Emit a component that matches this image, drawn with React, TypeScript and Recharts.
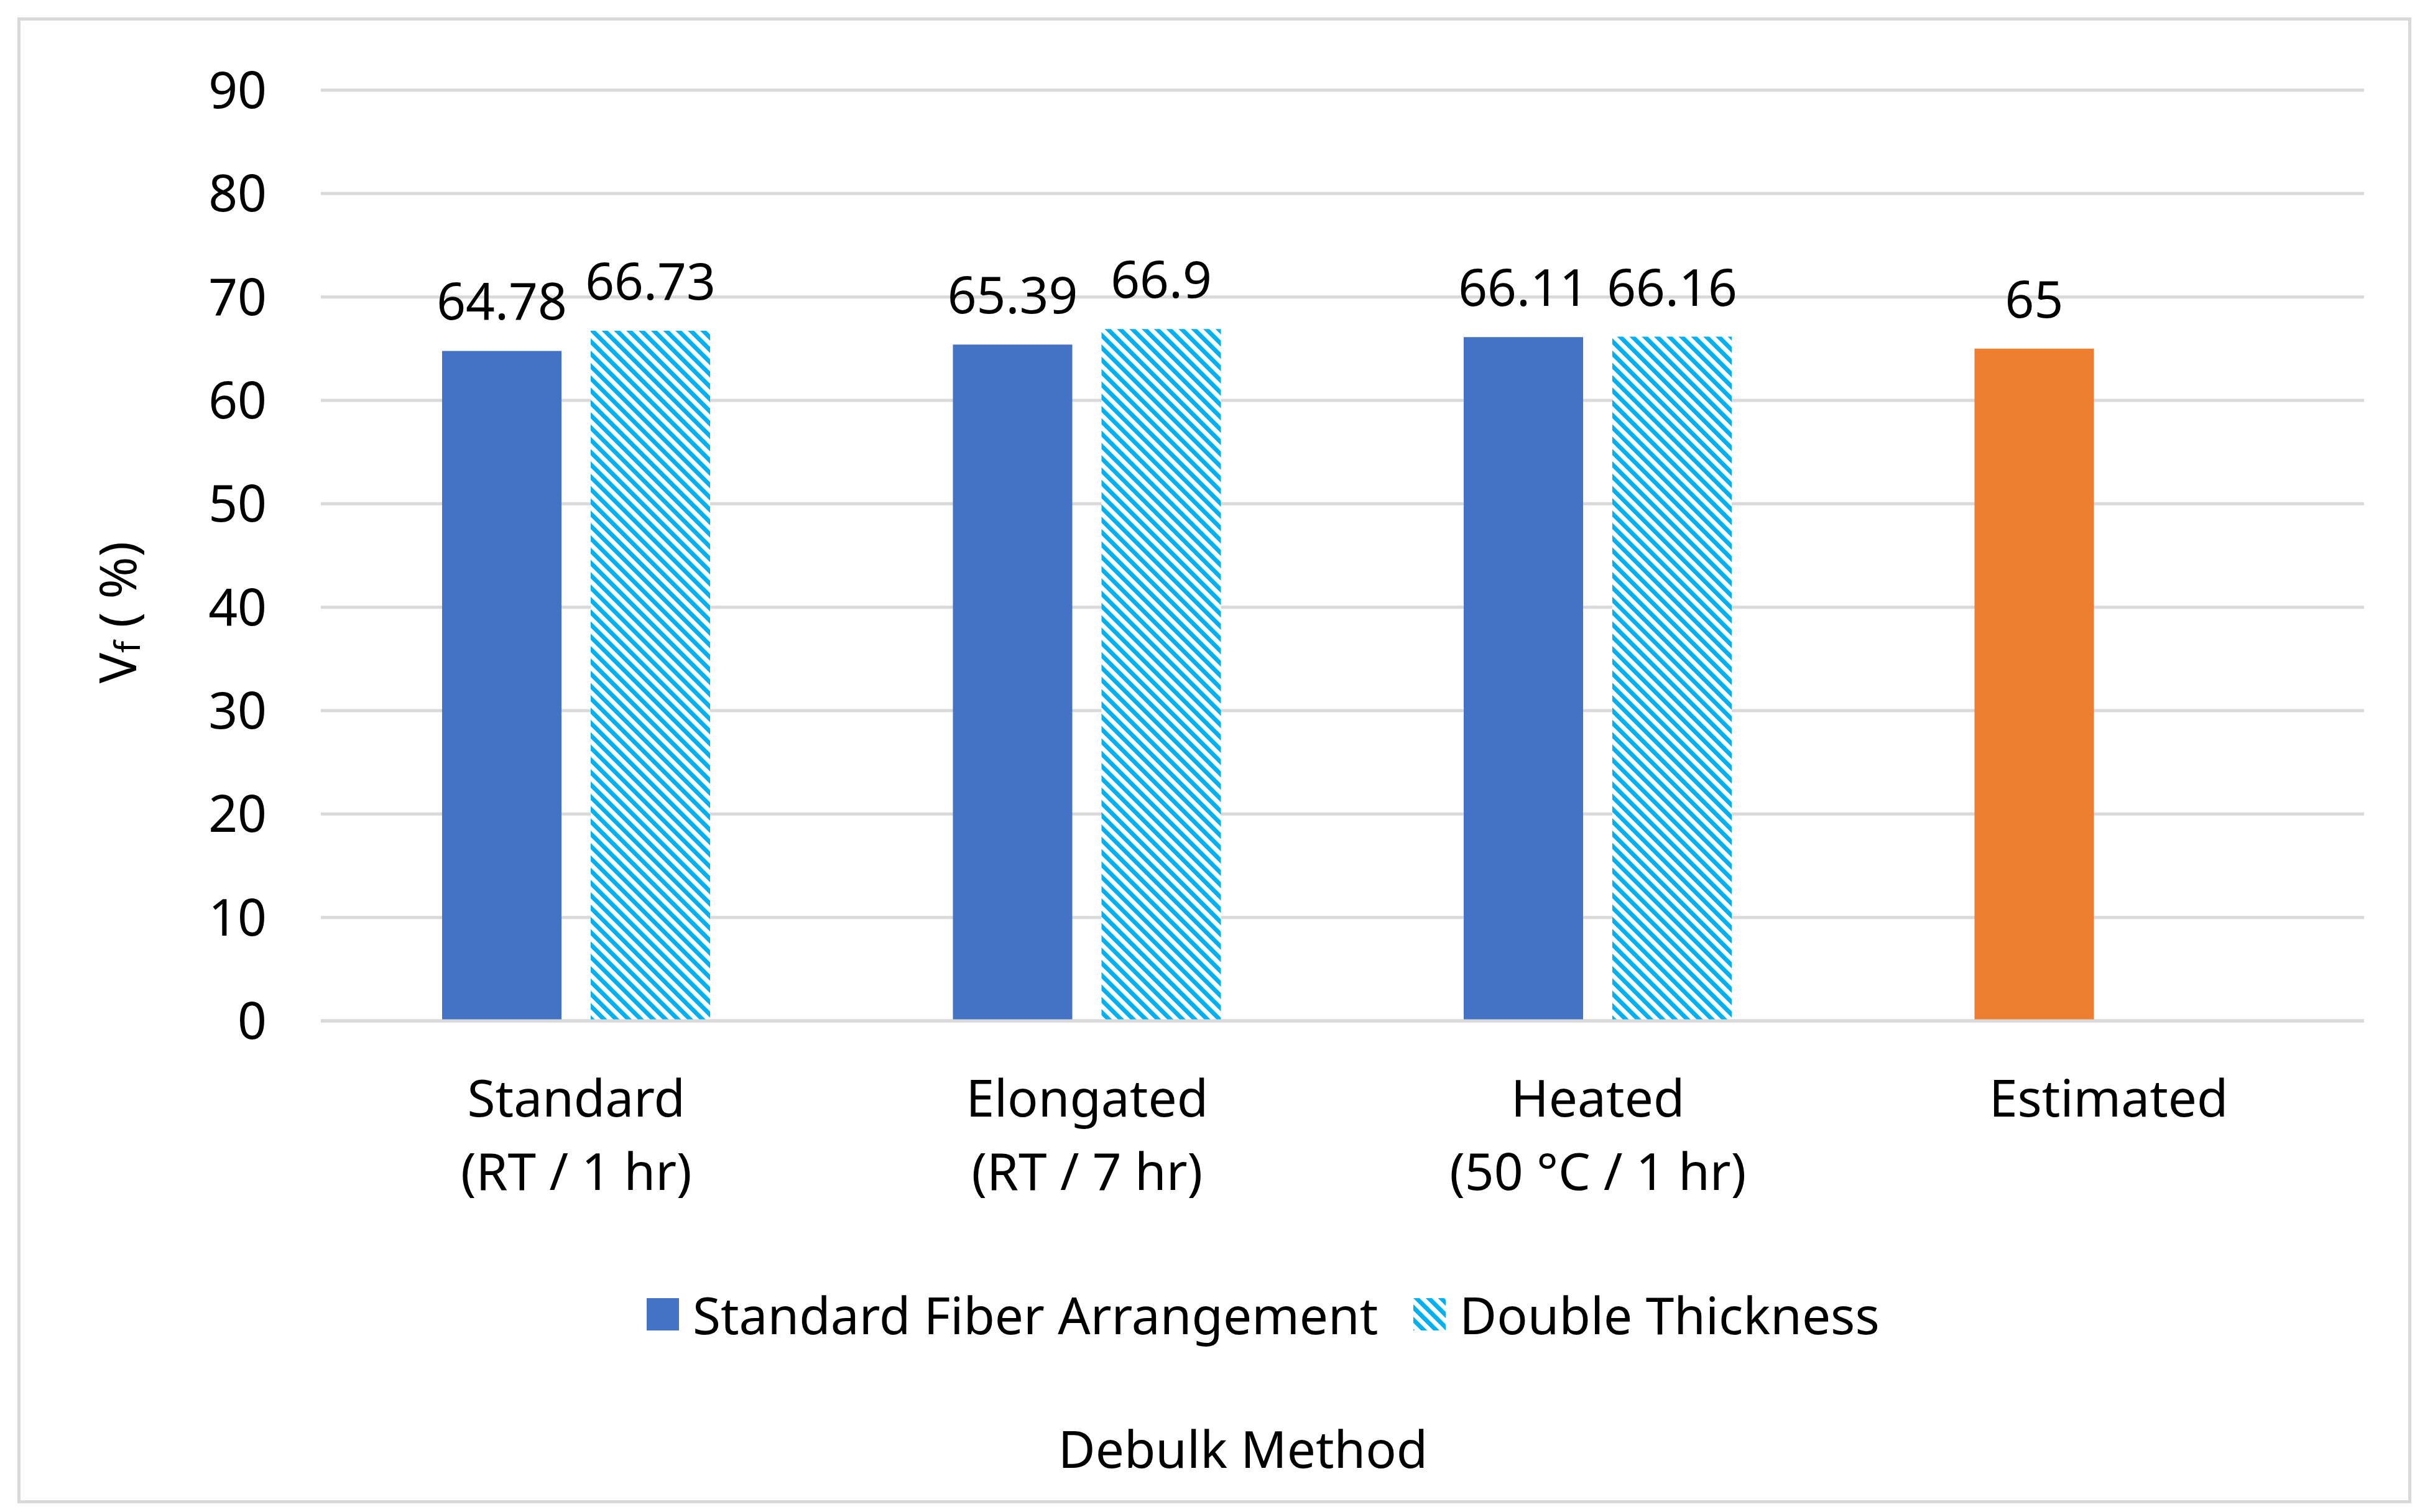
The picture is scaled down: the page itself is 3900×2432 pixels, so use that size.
import React from "react";
import { Bar, BarChart, CartesianGrid, Cell, LabelList, Legend, XAxis, YAxis } from "recharts";

const categories = ["Standard", "Elongated", "Heated", "Estimated"];
const subLabels = ["(RT / 1 hr)", "(RT / 7 hr)", "(50 °C / 1 hr)", ""];
const standardFiber = [64.78, 65.39, 66.11, 65];
const doubleThickness: (number | null)[] = [66.73, 66.9, 66.16, null];
const barColors = ["#4472c4", "#4472c4", "#4472c4", "#ed7d31"];
const yTicks = [0, 10, 20, 30, 40, 50, 60, 70, 80, 90];
const seriesNames = ["Standard Fiber Arrangement", "Double Thickness"];

const data = categories.map((name, i) => ({
  name,
  standard: standardFiber[i],
  double: doubleThickness[i],
}));

const FONT = "'Noto Sans', 'Open Sans', sans-serif";
const FS = 82;
const GRID = "#d9d9d9";
const HATCH = "#00b0f0";

function CategoryTick(props: any) {
  const { x, y, payload, index } = props;
  const sub = subLabels[index];
  return (
    <text textAnchor="middle" fontFamily={FONT} fontSize={FS} fill="#000">
      <tspan x={x} y={y + 152}>{payload.value}</tspan>
      {sub ? <tspan x={x} y={y + 270}>{sub}</tspan> : null}
    </text>
  );
}

function renderValue(props: any) {
  const { x, y, width, value } = props;
  if (value == null) return null;
  return (
    <text x={x + width / 2} y={y - 50} textAnchor="middle" fontFamily={FONT} fontSize={FS} fill="#000">
      {value}
    </text>
  );
}

function LegendContent() {
  return (
    <div
      style={{
        display: "flex",
        alignItems: "center",
        fontFamily: FONT,
        fontSize: FS,
        lineHeight: 1,
        color: "#000",
        whiteSpace: "nowrap",
      }}
    >
      <svg width={52} height={52}>
        <rect width={52} height={52} fill="#4472c4" />
      </svg>
      <span style={{ marginLeft: 22 }}>{seriesNames[0]}</span>
      <svg width={52} height={52} style={{ marginLeft: 57 }}>
        <rect width={52} height={52} fill="url(#hatch)" />
      </svg>
      <span style={{ marginLeft: 22 }}>{seriesNames[1]}</span>
    </div>
  );
}

export default function App() {
  return (
    <div style={{ position: "absolute", left: 0, top: 0, width: 3900, height: 2432, background: "#fff" }}>
      <div
        style={{
          position: "absolute",
          left: 28,
          top: 28,
          width: 3850,
          height: 2390,
          border: `5px solid ${GRID}`,
          boxSizing: "border-box",
        }}
      />
      <div style={{ position: "absolute", left: 0, top: 0 }}>
        <BarChart
          width={3900}
          height={2432}
          data={data}
          margin={{ top: 145, right: 98, left: 0, bottom: 0 }}
          barSize={192}
          barGap={47}
        >
          <defs>
            <pattern id="hatch" patternUnits="userSpaceOnUse" width={14} height={14} patternTransform="rotate(-45)">
              <rect width={14} height={14} fill="#fff" />
              <rect width={7} height={14} fill={HATCH} />
            </pattern>
          </defs>
          <CartesianGrid vertical={false} stroke={GRID} strokeWidth={5} />
          <XAxis
            dataKey="name"
            height={790}
            tickLine={false}
            tickSize={0}
            axisLine={{ stroke: GRID, strokeWidth: 5 }}
            tick={<CategoryTick />}
            interval={0}
            label={{
              content: () => (
                <text x={1999} y={2361} textAnchor="middle" fontFamily={FONT} fontSize={FS} fill="#000">
                  Debulk Method
                </text>
              ),
            }}
          />
          <YAxis
            width={516}
            domain={[0, 90]}
            ticks={yTicks}
            interval={0}
            tickLine={false}
            tickSize={0}
            tickMargin={87}
            axisLine={false}
            tick={{ fontFamily: FONT, fontSize: FS, fill: "#000" }}
            label={{
              content: () => (
                <text
                  x={187}
                  y={985}
                  transform="rotate(-90, 187, 985)"
                  textAnchor="middle"
                  dominantBaseline="central"
                  fontFamily={FONT}
                  fontSize={FS}
                  fill="#000"
                >
                  V
                  <tspan fontSize={56} dy={16}>f</tspan>
                  <tspan dy={-16}> ( %)</tspan>
                </text>
              ),
            }}
          />
          <Legend
            layout="horizontal"
            verticalAlign="middle"
            align="center"
            content={<LegendContent />}
            wrapperStyle={{ top: 2073, left: 1040, width: "auto" }}
          />
          <Bar dataKey="standard" name={seriesNames[0]} fill="#4472c4" isAnimationActive={false}>
            {data.map((_, i) => (
              <Cell key={i} fill={barColors[i]} />
            ))}
            <LabelList dataKey="standard" content={renderValue} />
          </Bar>
          <Bar dataKey="double" name={seriesNames[1]} fill="url(#hatch)" isAnimationActive={false}>
            <LabelList dataKey="double" content={renderValue} />
          </Bar>
        </BarChart>
      </div>
    </div>
  );
}
